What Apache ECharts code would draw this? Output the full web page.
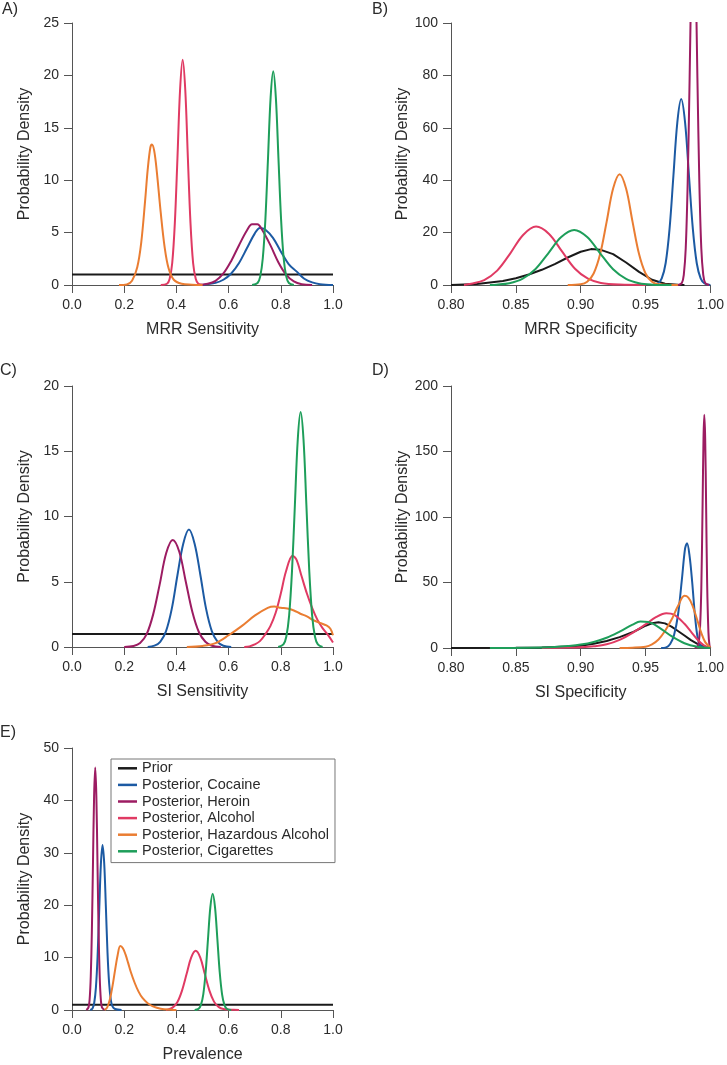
<!DOCTYPE html>
<html>
<head>
<meta charset="utf-8">
<script src="https://cdn.jsdelivr.net/npm/echarts@6/dist/echarts.min.js"></script>
<style>
html,body{margin:0;padding:0;background:#fff;}
#chart{width:727px;height:1065px;}
</style>
</head>
<body>
<div id="chart"></div>
<script>
// ---------- Data ----------
var seriesNames = ['Prior', 'Posterior, Cocaine', 'Posterior, Heroin', 'Posterior, Alcohol', 'Posterior, Hazardous Alcohol', 'Posterior, Cigarettes'];
var panelLabels = ['A)', 'B)', 'C)', 'D)', 'E)'];
var xTitles = ['MRR Sensitivity', 'MRR Specificity', 'SI Sensitivity', 'SI Specificity', 'Prevalence'];
var yMax = [25, 100, 20, 200, 50];
var yStep = [5, 20, 5, 50, 10];
var xMin = [0, 0.8, 0, 0.8, 0];
var xStep = [0.2, 0.05, 0.2, 0.05, 0.2];

// Panel A: MRR Sensitivity
var A_prior = [[0,1],[1,1]];
var A_cocaine = [[0.5,0],[0.55,0.2],[0.58,0.5],[0.61,1.1],[0.64,2.1],[0.67,3.5],[0.7,4.9],[0.72,5.45],[0.74,5.3],[0.77,4.5],[0.8,3.2],[0.83,2.0],[0.86,1.3],[0.89,0.6],[0.92,0.25],[0.95,0.08],[1.0,0]];
var A_heroin = [[0.48,0],[0.52,0.12],[0.55,0.4],[0.58,1.1],[0.61,2.3],[0.64,3.8],[0.67,5.2],[0.69,5.8],[0.71,5.8],[0.73,5.2],[0.76,3.8],[0.79,2.2],[0.82,1.0],[0.85,0.35],[0.88,0.08],[0.92,0]];
var A_alcohol = [[0.34,0],[0.364,0.12],[0.374,0.58],[0.384,2.1],[0.394,5.9],[0.404,12.1],[0.414,18.6],[0.424,21.5],[0.434,18.6],[0.444,12.1],[0.454,5.9],[0.464,2.1],[0.474,0.6],[0.484,0.12],[0.5,0]];
var A_hazardous = [[0.18,0],[0.21,0.05],[0.23,0.4],[0.25,1.7],[0.265,4.0],[0.28,8.0],[0.29,11.0],[0.3,13.1],[0.306,13.4],[0.315,12.8],[0.325,10.8],[0.34,6.9],[0.355,3.6],[0.37,1.6],[0.39,0.5],[0.42,0.12],[0.46,0.03],[0.5,0]];
var A_cigarettes = [[0.69,0],[0.711,0.19],[0.721,0.8],[0.731,2.55],[0.741,6.3],[0.751,12.1],[0.761,17.9],[0.771,20.4],[0.781,17.9],[0.791,12.1],[0.801,6.3],[0.811,2.55],[0.821,0.8],[0.831,0.19],[0.85,0]];

// Panel B: MRR Specificity
var B_prior = [[0.8,0],[0.82,0.4],[0.84,1.5],[0.85,2.6],[0.86,4.0],[0.87,5.8],[0.88,8.0],[0.89,10.5],[0.9,12.7],[0.908,13.7],[0.915,13.5],[0.925,11.8],[0.935,8.6],[0.945,5.0],[0.955,2.0],[0.965,0.5],[0.975,0.05],[0.98,0]];
var B_cocaine = [[0.955,0],[0.9595,0.57],[0.9625,2.5],[0.9655,8.3],[0.9685,21.3],[0.9715,41.7],[0.9745,62],[0.9775,71],[0.9805,62],[0.9835,41.7],[0.9865,21.3],[0.9895,8.3],[0.9925,2.5],[0.9955,0.57],[1.0,0]];
var B_heroin = [[0.975,0],[0.978,0.8],[0.9795,3.9],[0.981,14],[0.9825,39],[0.984,79],[0.9855,121],[0.987,140],[0.9885,121],[0.99,79],[0.9915,39],[0.993,14],[0.9945,3.9],[0.996,0.8],[0.999,0]];
var B_alcohol = [[0.81,0],[0.8156,0.45],[0.8256,1.9],[0.8356,5.5],[0.8456,12.0],[0.8556,19.1],[0.8656,22.3],[0.8756,19.5],[0.8856,12.8],[0.8956,6.2],[0.9056,2.4],[0.9156,0.8],[0.93,0.15],[0.95,0]];
var B_hazardous = [[0.89,0],[0.9,0.26],[0.905,1.24],[0.91,4.4],[0.915,11.8],[0.92,24.1],[0.925,36.8],[0.93,42.3],[0.935,36.8],[0.94,24.1],[0.945,11.8],[0.95,4.4],[0.955,1.24],[0.96,0.26],[0.975,0]];
var B_cigarettes = [[0.83,0],[0.835,0.14],[0.845,0.66],[0.855,2.3],[0.865,6.0],[0.875,12.1],[0.885,18.3],[0.895,21],[0.905,18.3],[0.915,12.1],[0.925,6.0],[0.935,2.3],[0.945,0.66],[0.955,0.14],[0.97,0]];

// Panel C: SI Sensitivity
var C_prior = [[0,1],[1,1]];
var C_cocaine = [[0.29,0],[0.316,0.1],[0.338,0.4],[0.36,1.2],[0.382,2.9],[0.404,5.5],[0.426,7.9],[0.448,9.0],[0.47,7.9],[0.492,5.5],[0.514,2.9],[0.536,1.2],[0.558,0.4],[0.58,0.1],[0.61,0]];
var C_heroin = [[0.2,0],[0.236,0.07],[0.261,0.3],[0.286,0.98],[0.311,2.5],[0.336,4.8],[0.361,7.2],[0.386,8.2],[0.411,7.3],[0.436,5.0],[0.461,2.7],[0.486,1.15],[0.511,0.4],[0.536,0.1],[0.57,0]];
var C_alcohol = [[0.66,0],[0.68,0.05],[0.7,0.2],[0.72,0.45],[0.74,0.95],[0.76,1.6],[0.78,2.6],[0.8,4.1],[0.82,5.8],[0.845,7.0],[0.86,6.7],[0.88,5.4],[0.9,4.1],[0.92,3.0],[0.94,2.1],[0.96,1.45],[0.98,0.95],[1.0,0.35]];
var C_hazardous = [[0.44,0],[0.5,0.08],[0.55,0.3],[0.6,0.9],[0.65,1.6],[0.7,2.4],[0.75,3.0],[0.775,3.1],[0.8,3.0],[0.825,2.95],[0.85,2.8],[0.875,2.55],[0.9,2.35],[0.925,2.05],[0.95,1.85],[0.975,1.65],[0.99,1.4],[1.0,0.9]];
var C_cigarettes = [[0.79,0],[0.81,0.2],[0.821,0.79],[0.832,2.43],[0.843,5.85],[0.854,10.9],[0.865,15.9],[0.876,18],[0.887,15.9],[0.898,10.9],[0.909,5.85],[0.92,2.43],[0.931,0.79],[0.942,0.2],[0.96,0]];

// Panel D: SI Specificity
var D_prior = [[0.8,0],[0.85,0.1],[0.87,0.35],[0.89,1.1],[0.9,1.8],[0.91,3.2],[0.92,5.3],[0.93,8.3],[0.94,12.0],[0.945,14.5],[0.95,17.0],[0.955,18.9],[0.96,19.6],[0.965,18.8],[0.97,16.3],[0.975,13],[0.98,9.5],[0.985,6],[0.99,3.2],[0.995,1.1],[1.0,0]];
var D_cocaine = [[0.962,0],[0.966,0.5],[0.969,3],[0.972,10],[0.975,25],[0.978,52],[0.9805,76],[0.982,80],[0.984,70],[0.986,50],[0.988,26],[0.99,9],[0.992,2.5],[0.995,0.3],[0.998,0]];
var D_heroin = [[0.988,0],[0.99,1],[0.991,4],[0.992,15],[0.993,45],[0.994,110],[0.9947,160],[0.9953,178],[0.996,160],[0.9967,110],[0.9975,50],[0.9985,12],[0.9993,2],[1.0,0]];
var D_alcohol = [[0.87,0],[0.89,0.3],[0.9,0.6],[0.91,1.3],[0.92,2.8],[0.93,6.2],[0.94,11.5],[0.95,18],[0.958,23.5],[0.966,26.6],[0.972,25.5],[0.98,18.5],[0.985,12.5],[0.99,6.5],[0.995,2],[1.0,0]];
var D_hazardous = [[0.93,0],[0.94,0.2],[0.95,1.0],[0.955,2.8],[0.96,6.5],[0.965,13],[0.97,21.5],[0.975,32],[0.98,39.8],[0.983,38.5],[0.986,33],[0.99,21],[0.993,11.5],[0.996,4.5],[1.0,0.3]];
var D_cigarettes = [[0.83,0],[0.86,0.2],[0.88,0.8],[0.89,1.5],[0.9,2.6],[0.91,4.6],[0.92,7.8],[0.93,12.5],[0.94,17.8],[0.946,20.2],[0.952,19.8],[0.96,16],[0.97,9],[0.98,3.6],[0.99,0.9],[1.0,0]];

// Panel E: Prevalence
var E_prior = [[0,1],[1,1]];
var E_cocaine = [[0.07,0],[0.079,0.35],[0.0852,1.38],[0.0916,4.26],[0.098,10.2],[0.1043,19.1],[0.1106,27.8],[0.117,31.5],[0.1234,28],[0.1297,19.8],[0.136,11],[0.1424,5],[0.1488,1.9],[0.155,0.7],[0.165,0.2],[0.19,0]];
var E_heroin = [[0.055,0],[0.0632,0.5],[0.0675,2.0],[0.0718,6.3],[0.0761,15],[0.0804,28.1],[0.0847,40.9],[0.089,46.3],[0.0933,40.9],[0.0976,28.1],[0.1019,15],[0.1062,6.3],[0.1105,2.0],[0.1148,0.5],[0.125,0]];
var E_alcohol = [[0.36,0],[0.369,0.12],[0.3865,0.5],[0.404,1.53],[0.4215,3.7],[0.439,6.85],[0.4565,10],[0.474,11.3],[0.4915,10],[0.509,6.85],[0.5265,3.7],[0.544,1.6],[0.5615,0.6],[0.58,0.2],[0.62,0.03],[0.64,0]];
var E_hazardous = [[0.125,0],[0.135,0.5],[0.145,2.0],[0.155,4.5],[0.165,7.6],[0.175,10.5],[0.185,12.2],[0.195,11.8],[0.205,10.6],[0.215,9.0],[0.225,7.3],[0.24,5.2],[0.255,3.5],[0.27,2.3],[0.29,1.3],[0.31,0.7],[0.34,0.25],[0.38,0.05],[0.4,0]];
var E_cigarettes = [[0.47,0],[0.485,0.24],[0.494,0.97],[0.503,3.0],[0.512,7.2],[0.521,13.5],[0.53,19.6],[0.539,22.2],[0.548,19.6],[0.557,13.5],[0.566,7.2],[0.575,3.0],[0.584,0.97],[0.593,0.24],[0.61,0]];

// ---------- Build ----------
var panels = [
  [A_prior, A_cocaine, A_heroin, A_alcohol, A_hazardous, A_cigarettes],
  [B_prior, B_cocaine, B_heroin, B_alcohol, B_hazardous, B_cigarettes],
  [C_prior, C_cocaine, C_heroin, C_alcohol, C_hazardous, C_cigarettes],
  [D_prior, D_cocaine, D_heroin, D_alcohol, D_hazardous, D_cigarettes],
  [E_prior, E_cocaine, E_heroin, E_alcohol, E_hazardous, E_cigarettes]
];
var colors = ['#1a1a1a', '#1c5aa3', '#9c1c62', '#e03a63', '#ea7d32', '#1e9e5a'];
var grids = [
  {left: 72, top: 23, width: 261, height: 262},
  {left: 451, top: 23, width: 261, height: 262},
  {left: 72, top: 386, width: 261, height: 261},
  {left: 451, top: 386, width: 261, height: 262},
  {left: 72, top: 748, width: 261, height: 262}
];
var labelPos = [[2, 2], [372, 2], [0, 363], [372, 363], [0, 725]];
var FONT = '"Liberation Sans", Arial, Helvetica, sans-serif';
var textColor = '#2b2b2b';
var axisColor = '#555';

var xAxes = [], yAxes = [], series = [], titles = [];
for (var p = 0; p < 5; p++) {
  var dec = xStep[p] < 0.1 ? 2 : 1;
  xAxes.push({
    type: 'value', gridIndex: p, min: xMin[p], max: 1, interval: xStep[p],
    name: xTitles[p], nameLocation: 'middle', nameGap: 37,
    nameTextStyle: {fontSize: 16, color: textColor, fontFamily: FONT},
    axisLine: {show: true, onZero: false, lineStyle: {color: axisColor, width: 1}},
    axisTick: {show: true, length: 8, lineStyle: {color: axisColor}},
    axisLabel: {show: true, fontSize: 14, color: textColor, fontFamily: FONT, margin: 13,
      formatter: (function(d){ return function(v){ return v.toFixed(d); }; })(dec)},
    splitLine: {show: false}
  });
  yAxes.push({
    type: 'value', gridIndex: p, min: 0, max: yMax[p], interval: yStep[p],
    name: 'Probability Density', nameLocation: 'middle', nameGap: 39,
    nameTextStyle: {fontSize: 16, color: textColor, fontFamily: FONT},
    axisLine: {show: true, onZero: false, lineStyle: {color: axisColor, width: 1}},
    axisTick: {show: true, length: 8, lineStyle: {color: axisColor}},
    axisLabel: {show: true, fontSize: 14, color: textColor, fontFamily: FONT, margin: 13},
    splitLine: {show: false}
  });
  titles.push({
    text: panelLabels[p], left: labelPos[p][0], top: labelPos[p][1], padding: 0,
    textStyle: {fontSize: 16, fontWeight: 'normal', color: textColor, fontFamily: FONT}
  });
  for (var s = 0; s < 6; s++) {
    series.push({
      type: 'line', name: seriesNames[s], xAxisIndex: p, yAxisIndex: p,
      data: panels[p][s], showSymbol: false, symbol: 'none',
      smooth: s === 0 ? false : 0.35,
      clip: true, silent: true,
      lineStyle: {color: colors[s], width: 2},
      itemStyle: {color: colors[s]},
      z: s === 0 ? 1 : 2 + s
    });
  }
}

var chart = echarts.init(document.getElementById('chart'), null, {renderer: 'canvas'});
chart.setOption({
  animation: false,
  backgroundColor: '#fff',
  color: colors,
  title: titles,
  grid: grids,
  xAxis: xAxes,
  yAxis: yAxes,
  legend: {
    data: seriesNames, orient: 'vertical', left: 111, top: 759,
    icon: 'rect', itemWidth: 19, itemHeight: 2.5, itemGap: 0,
    padding: [1, 6, 3, 7],
    borderColor: '#777', borderWidth: 1, backgroundColor: '#fff', borderRadius: 0,
    textStyle: {fontSize: 14.5, color: textColor, fontFamily: FONT, lineHeight: 16.6},
    selectedMode: false
  },
  series: series
});
</script>
</body>
</html>
